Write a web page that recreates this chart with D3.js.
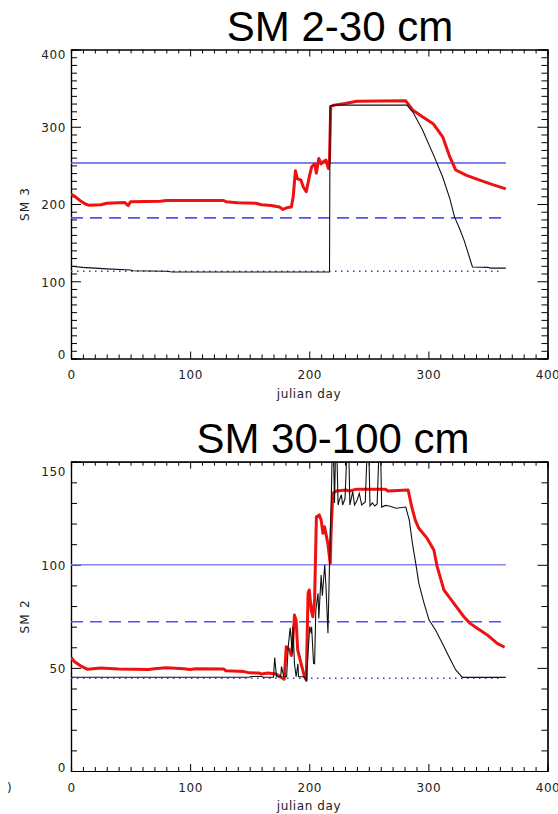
<!DOCTYPE html>
<html>
<head>
<meta charset="utf-8">
<script src="https://cdn.jsdelivr.net/npm/d3@7"></script>
<style>
  body { margin: 0; background: #fff; }
  .tick text { font-family: "DejaVu Sans", sans-serif; font-size: 12px; letter-spacing: 0.6px; fill: #222; }
  .axis path { stroke: #000; }
  .axis line { stroke: #000; }
</style>
</head>
<body>
<div id="chart"></div>
<script>
// SM 2-30 cm (top panel)
var topBlackDays = [0, 10, 30, 50, 52, 80, 85, 217, 217.5, 220, 282, 287, 295, 305, 312, 318, 322, 326, 330, 337, 350, 352, 365];
var topBlackVals = [119.5, 118, 116, 114.5, 113.5, 113, 112, 112, 327, 328, 328, 319, 296, 261, 235, 207, 183, 169, 153, 118.5, 118, 117, 117];
var topRedDays = [0, 3, 8, 12, 15, 25, 30, 45, 48, 50, 75, 80, 128, 130, 140, 155, 160, 168, 175, 178, 182, 185, 186.5, 188.4, 190, 193, 195, 197.5, 200, 202, 204.5, 206, 208, 210, 211.5, 214, 216, 217, 218, 221, 230, 240, 281, 287, 295, 304, 312, 318, 323, 332, 343, 354, 365];
var topRedVals = [213, 210, 204, 200, 198.5, 199, 201, 202, 198, 203, 203.5, 204.5, 204.5, 203, 201.5, 201, 199, 198, 196, 193, 195.5, 196, 209, 243, 233, 231, 222, 216, 235, 248, 252, 240, 259, 252, 254.5, 257, 246, 257, 326, 328, 330, 333, 333.5, 321.5, 313, 304, 287, 261, 244, 237, 231, 225, 219.5];
var topLevels = [253, 182, 113];   // solid, dashed, dotted

// SM 30-100 cm (bottom panel)
var botBlackDays = [0, 150, 151, 160, 161, 170, 171, 172.5, 176, 176.7, 178.6, 181, 182.3, 184, 185.8, 186.3, 187.6, 189, 190.5, 191, 196, 197.5, 200.4, 201.7, 202, 203.6, 204.5, 205.5, 207.4, 208, 210, 211, 213, 214, 215.7, 217, 218.4, 219.8, 221.2, 222.6, 224.2, 225, 227, 228, 230, 232.7, 234.1, 236.5, 238, 240, 242, 244, 247, 249.5, 251, 253, 255, 257, 259.4, 260.8, 264, 267, 273, 281, 284, 286.6, 289.4, 292, 296.4, 300.6, 306, 311.7, 317.3, 323, 328.5, 365];
var botBlackVals = [45.5, 45.5, 45.8, 45.8, 45.5, 45.5, 55, 45.7, 45.7, 50.6, 45.7, 45.7, 60, 69.5, 57, 70, 52, 45.7, 52, 45.7, 45.7, 44, 70, 66.8, 70, 52.2, 52, 78, 86.2, 74, 95, 85, 100, 90, 66.8, 100, 130, 170, 130, 170, 129, 131, 134, 129, 132, 170, 129, 135.5, 129, 131, 134.6, 129, 130.5, 170, 128.5, 130, 128.5, 129.5, 170, 128, 128.8, 128.5, 127.4, 128, 121.7, 110.4, 100.7, 91, 81.3, 73.2, 68.4, 61.9, 55.4, 49, 45.4, 45.4];
var botRedDays = [0, 3, 8, 14, 25, 40, 65, 70, 80, 95, 100, 105, 128, 130, 145, 150, 158, 160, 165, 172, 175, 179, 180.7, 183.5, 185, 186, 187.6, 189, 190.3, 193, 196, 197.5, 199, 200, 201.7, 203, 204.5, 206, 208.4, 210, 211.5, 212.8, 215.6, 217.6, 218.4, 219.8, 222.6, 231, 233.8, 239, 264, 266, 283, 286, 289, 292, 299, 304.6, 307.4, 313, 321.4, 329.8, 335, 341, 349.4, 357.8, 364];
var botRedVals = [55, 53, 51, 49.3, 50, 49.5, 49.2, 49.6, 50.1, 49.6, 49.2, 49.6, 49.5, 48.6, 48.2, 47.6, 47.5, 47, 47.5, 47, 46, 44.5, 60.3, 58.7, 56, 62, 75.6, 73, 58.7, 52.4, 45.7, 44.1, 86.2, 87.8, 78, 74.8, 83, 123.3, 124.2, 121.7, 115.3, 118.5, 110.4, 100.7, 116.9, 134.7, 135.8, 136.3, 135.8, 136.6, 136.6, 135.8, 136.3, 128.2, 121.7, 117.7, 112.8, 107.2, 99.1, 87.8, 81.3, 74.8, 71.6, 69.2, 66, 61.9, 60];
var botLevels = [100, 72.4, 45];

var xMajor = [0, 100, 200, 300, 400];
var topYMajor = [0, 100, 200, 300, 400];
var botYMajor = [0, 50, 100, 150];

var width = 558, height = 814;

var svg = d3.select("#chart").append("svg")
    .attr("width", width)
    .attr("height", height);

svg.append("rect")
    .attr("width", width)
    .attr("height", height)
    .attr("fill", "#fff");

function zip(days, vals) {
  return days.map(function (d, i) { return [d, vals[i]]; });
}

function drawPanel(cfg) {
  var x = d3.scaleLinear().domain([0, 400]).range([71, 547.5]);
  var y = d3.scaleLinear().domain(cfg.yDomain).range([cfg.bottom, cfg.top]);
  var g = svg.append("g");

  var minorX = d3.range(0, 401, 10).filter(function (d) { return d % 100 !== 0; });
  var minorY = d3.range(cfg.yDomain[0], cfg.yDomain[1] + 1, 10).filter(function (d) { return cfg.yMajor.indexOf(d) < 0; });

  // minor ticks on all four sides
  g.append("g").attr("class", "axis").attr("transform", "translate(0," + cfg.bottom + ")")
      .call(d3.axisBottom(x).tickValues(minorX).tickSize(-4).tickFormat(""));
  g.append("g").attr("class", "axis").attr("transform", "translate(0," + cfg.top + ")")
      .call(d3.axisTop(x).tickValues(minorX).tickSize(-4).tickFormat(""));
  g.append("g").attr("class", "axis").attr("transform", "translate(71,0)")
      .call(d3.axisLeft(y).tickValues(minorY).tickSize(-6).tickFormat(""));
  g.append("g").attr("class", "axis").attr("transform", "translate(547.5,0)")
      .call(d3.axisRight(y).tickValues(minorY).tickSize(-6).tickFormat(""));

  // major ticks
  g.append("g").attr("class", "axis").attr("transform", "translate(0," + cfg.bottom + ")")
      .call(d3.axisBottom(x).tickValues(xMajor).tickSize(-7).tickPadding(12).tickSizeOuter(0));
  g.append("g").attr("class", "axis").attr("transform", "translate(0," + cfg.top + ")")
      .call(d3.axisTop(x).tickValues(xMajor).tickSize(-7).tickFormat("").tickSizeOuter(0));
  var yAx = g.append("g").attr("class", "axis").attr("transform", "translate(71,0)")
      .call(d3.axisLeft(y).tickValues(cfg.yMajor).tickSize(-10).tickPadding(5).tickSizeOuter(0));
  g.append("g").attr("class", "axis").attr("transform", "translate(547.5,0)")
      .call(d3.axisRight(y).tickValues(cfg.yMajor).tickSize(-10).tickFormat("").tickSizeOuter(0));

  // end labels sit a little inside the range, as in the original
  yAx.selectAll(".tick text")
      .attr("y", function (d) {
        if (d === cfg.yDomain[1]) return cfg.topLabelShift;
        if (d === cfg.yDomain[0]) return -3.5;
        return 1;
      });

  g.selectAll(".axis .domain").attr("stroke-width", 1.2);

  var clipId = "clip" + Math.round(cfg.top);
  svg.append("clipPath").attr("id", clipId)
    .append("rect")
      .attr("x", 71).attr("y", cfg.top)
      .attr("width", 547.5 - 71).attr("height", cfg.bottom - cfg.top);

  var plot = g.append("g").attr("clip-path", "url(#" + clipId + ")");

  // reference levels
  var styles = [
    { dash: null, color: cfg.solidColor, w: 1.6, end: 365 },
    { dash: "12,7", color: "#4f55ee", w: 1.6, end: 365 },
    { dash: "1.5,4.5", color: "#3a3ae0", w: 1.6, end: 362 }
  ];
  cfg.levels.forEach(function (v, i) {
    plot.append("line")
        .attr("x1", x(0)).attr("x2", x(styles[i].end))
        .attr("y1", y(v)).attr("y2", y(v))
        .attr("stroke", styles[i].color)
        .attr("stroke-width", styles[i].w)
        .attr("stroke-dasharray", styles[i].dash);
  });

  var line = d3.line()
      .x(function (d) { return x(d[0]); })
      .y(function (d) { return y(d[1]); });

  plot.append("path")
      .datum(zip(cfg.redDays, cfg.redVals))
      .attr("d", line)
      .attr("fill", "none")
      .attr("stroke", "#ee1111")
      .attr("stroke-width", 3)
      .attr("stroke-linejoin", "round");

  plot.append("path")
      .datum(zip(cfg.blackDays, cfg.blackVals))
      .attr("d", line)
      .attr("fill", "none")
      .attr("stroke", "#111")
      .attr("stroke-width", 1.1);

  // titles and labels
  svg.append("text")
      .attr("x", cfg.titleX).attr("y", cfg.titleY)
      .attr("text-anchor", "middle")
      .style("font-family", "'Liberation Sans', Arial, sans-serif")
      .style("font-size", "42px")
      .text(cfg.title);

  svg.append("text")
      .attr("x", 309).attr("y", cfg.bottom + 39)
      .attr("text-anchor", "middle")
      .style("font-family", "'DejaVu Sans', sans-serif")
      .style("font-size", "12px")
      .style("letter-spacing", "0.6px")
      .attr("fill", "#222")
      .text("julian day");

  svg.append("text")
      .attr("transform", "translate(29," + ((cfg.top + cfg.bottom) / 2) + ") rotate(-90)")
      .attr("text-anchor", "middle")
      .style("font-family", "'DejaVu Sans', sans-serif")
      .style("font-size", "12px")
      .style("letter-spacing", "1.2px")
      .attr("fill", "#222")
      .text(cfg.yLabel);
}

drawPanel({
  title: "SM 2-30 cm", titleX: 340, titleY: 41,
  yLabel: "SM 3", top: 49.5, bottom: 358.5, yDomain: [0, 400], yMajor: topYMajor,
  topLabelShift: 5, levels: topLevels, solidColor: "#5058ec",
  blackDays: topBlackDays, blackVals: topBlackVals,
  redDays: topRedDays, redVals: topRedVals
});

drawPanel({
  title: "SM 30-100 cm", titleX: 333, titleY: 453,
  yLabel: "SM 2", top: 461.7, bottom: 771, yDomain: [0, 150], yMajor: botYMajor,
  topLabelShift: 10, levels: botLevels, solidColor: "#8484ec",
  blackDays: botBlackDays, blackVals: botBlackVals,
  redDays: botRedDays, redVals: botRedVals
});

svg.append("text")
    .attr("x", 7).attr("y", 792)
    .style("font-family", "'DejaVu Sans', sans-serif")
    .style("font-size", "12px")
    .attr("fill", "#222")
    .text(")");
</script>
</body>
</html>
